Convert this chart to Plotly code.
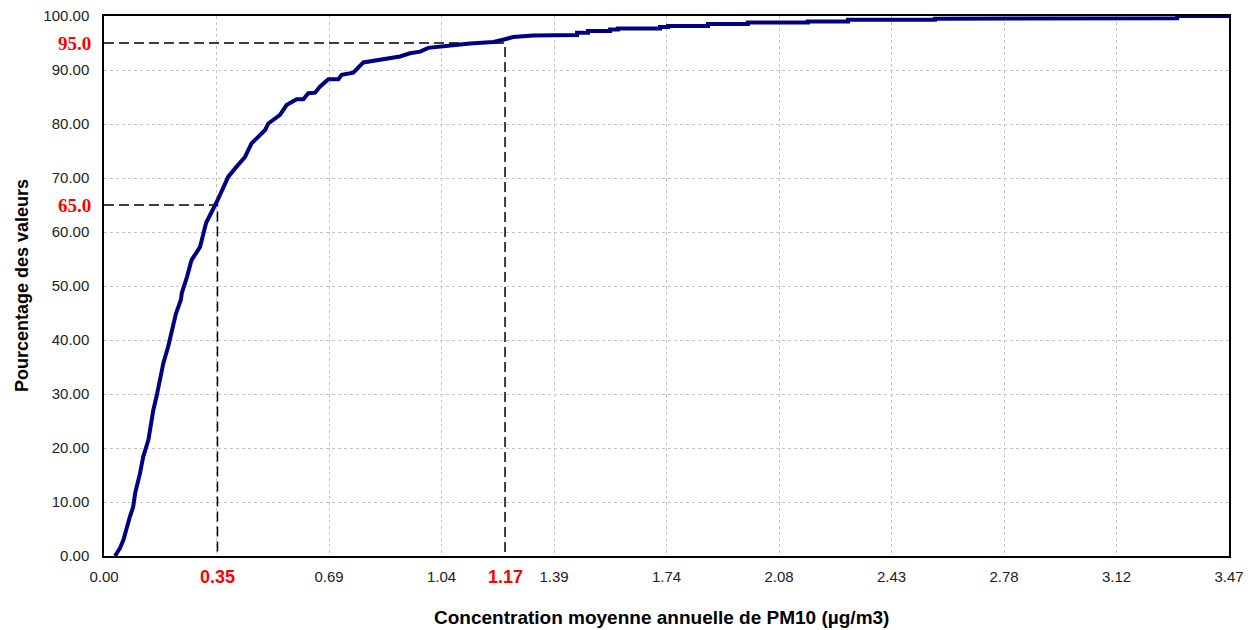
import plotly.graph_objects as go

# ---- data ----
conc = [0.034, 0.049, 0.060, 0.070, 0.080, 0.090, 0.096, 0.111, 0.121, 0.137,
        0.147, 0.152, 0.163, 0.173, 0.183, 0.198, 0.209, 0.222, 0.237,
        0.240, 0.256, 0.270, 0.296, 0.315, 0.348, 0.383, 0.409, 0.435, 0.455,
        0.497, 0.507, 0.543, 0.563, 0.594, 0.615, 0.630, 0.651, 0.666, 0.692,
        0.723, 0.733, 0.769, 0.800, 0.831, 0.872, 0.913, 0.944, 0.975, 1.000,
        1.036, 1.077, 1.129, 1.201, 1.237, 1.262, 1.324, 1.376,
        1.459, 1.459, 1.493, 1.493, 1.561, 1.561, 1.585, 1.585, 1.715, 1.715,
        1.740, 1.740, 1.863, 1.863, 1.986, 1.986, 2.171, 2.171, 2.295, 2.295,
        2.563, 2.563, 2.795, 2.795, 3.310, 3.310, 3.470]
pct = [0.0, 1.4, 3.0, 5.4, 7.3, 9.1, 11.6, 15.3, 18.4, 21.5,
       25.2, 27.0, 29.8, 32.6, 35.7, 38.8, 41.9, 44.9, 47.4,
       48.7, 51.7, 54.8, 57.2, 61.7, 65.6, 70.2, 72.1, 73.9, 76.4,
       78.9, 80.1, 81.7, 83.5, 84.6, 84.6, 85.7, 85.8, 86.9, 88.3,
       88.3, 89.1, 89.5, 91.4, 91.7, 92.2, 92.5, 93.1, 93.4, 94.1,
       94.4, 94.6, 94.9, 95.2, 95.7, 96.1, 96.4, 96.5,
       96.5, 96.9, 96.9, 97.2, 97.2, 97.5, 97.5, 97.7, 97.7, 97.96,
       97.96, 98.15, 98.15, 98.5, 98.5, 98.8, 98.8, 99.0, 99.0, 99.3,
       99.3, 99.5, 99.5, 99.6, 99.6, 100.0, 100.0]

x_tick_vals = [0.0, 0.347, 0.694, 1.041, 1.388, 1.735, 2.082, 2.429, 2.776, 3.123, 3.47]
x_tick_text = ["0.00", "", "0.69", "1.04", "1.39", "1.74", "2.08", "2.43", "2.78", "3.12", "3.47"]
y_tick_vals = [0, 10, 20, 30, 40, 50, 60, 70, 80, 90, 100]
y_tick_text = ["0.00", "10.00", "20.00", "30.00", "40.00", "50.00", "60.00",
               "70.00", "80.00", "90.00", "100.00"]

marker_pct = [65, 95]
marker_conc = [0.35, 1.237]
marker_pct_labels = ["65.0", "95.0"]
marker_conc_labels = ["0.35", "1.17"]

x_title = "Concentration moyenne annuelle de PM10 (µg/m3)"
y_title = "Pourcentage des valeurs"

SANS = "Liberation Sans, Arial, sans-serif"
SERIF = "Liberation Serif, Times New Roman, serif"

fig = go.Figure()

# percentile guide lines
for p, c in zip(marker_pct, marker_conc):
    fig.add_trace(go.Scatter(
        x=[0, c, c], y=[p, p, 0], mode="lines",
        line=dict(color="black", width=1.5, dash="10px,5px"),
        hoverinfo="skip", showlegend=False, cliponaxis=False))

fig.add_trace(go.Scatter(
    x=conc, y=pct, mode="lines",
    line=dict(color="#000080", width=4),
    showlegend=False))

annotations = []
for p, lab in zip(marker_pct, marker_pct_labels):
    annotations.append(dict(
        x=0, xref="paper", y=p, yref="y", text=f"<b>{lab}</b>",
        showarrow=False, xanchor="right", yanchor="middle", xshift=-11,
        font=dict(family=SERIF, size=19, color="#ff0000")))
for c, lab in zip(marker_conc, marker_conc_labels):
    annotations.append(dict(
        x=c, xref="x", y=0, yref="paper", text=f"<b>{lab}</b>",
        showarrow=False, xanchor="center", yanchor="middle", yshift=-21,
        font=dict(family=SANS, size=18, color="#ff0000")))
annotations.append(dict(
    x=0.5, xref="paper", y=0, yref="paper", text=f"<b>{x_title}</b>",
    showarrow=False, xanchor="center", yanchor="middle", yshift=-61, xshift=-5,
    font=dict(family=SANS, size=19, color="black")))
annotations.append(dict(
    x=0, xref="paper", y=0.5, yref="paper", text=f"<b>{y_title}</b>",
    showarrow=False, xanchor="center", yanchor="middle", xshift=-82, textangle=-90,
    font=dict(family=SANS, size=18, color="black")))

fig.update_layout(
    width=1260, height=630,
    margin=dict(l=104, r=31, t=16, b=74, autoexpand=False),
    paper_bgcolor="white", plot_bgcolor="white",
    font=dict(family=SANS, size=15, color="#222222"),
    annotations=annotations,
    xaxis=dict(
        range=[0, 3.47], tickvals=x_tick_vals, ticktext=x_tick_text,
        showgrid=True, gridcolor="#c4c4c4", griddash="3px,3px", gridwidth=1,
        showline=True, linecolor="black", linewidth=1.5, mirror=True,
        zeroline=False, ticks="", ticklabelstandoff=6, automargin=False,
        tickfont=dict(family=SANS, size=15, color="#222222")),
    yaxis=dict(
        range=[0, 100], tickvals=y_tick_vals, ticktext=y_tick_text,
        showgrid=True, gridcolor="#c4c4c4", griddash="3px,3px", gridwidth=1,
        showline=True, linecolor="black", linewidth=1.5, mirror=True,
        zeroline=False, ticks="", ticklabelstandoff=10, automargin=False,
        tickfont=dict(family=SANS, size=15, color="#222222")),
)

fig.write_html("out.html",
               config={"displayModeBar": False},
               post_script="document.body.style.margin='0px';document.body.style.overflow='hidden';")
